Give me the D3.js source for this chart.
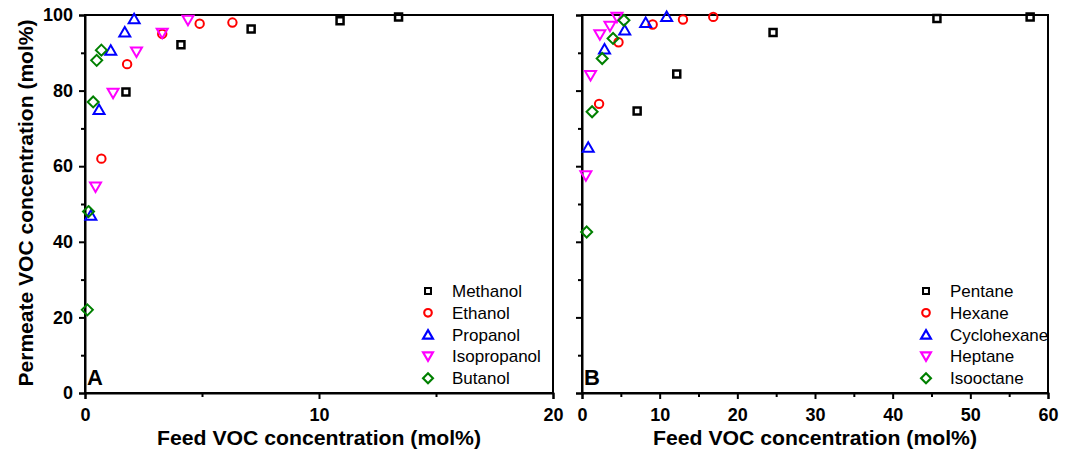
<!DOCTYPE html>
<html>
<head>
<meta charset="utf-8">
<script src="https://cdn.jsdelivr.net/npm/d3@7"></script>
<style>
body { margin: 0; background: #fff; }
text { font-family: "Liberation Sans", Arial, sans-serif; }
</style>
</head>
<body>
<div id="chart"></div>
<script>
// ---- data ----
var namesA = ['Methanol', 'Ethanol', 'Propanol', 'Isopropanol', 'Butanol'];
var namesB = ['Pentane', 'Hexane', 'Cyclohexane', 'Heptane', 'Isooctane'];

var methanol    = [[1.75, 79.6], [4.1, 92.1], [7.1, 96.3], [10.9, 98.5], [13.4, 99.5]];
var ethanol     = [[0.7, 62], [1.8, 87], [3.3, 95], [4.9, 97.7], [6.3, 98]];
var propanol    = [[0.25, 47], [0.6, 75], [1.1, 90.7], [1.7, 95.5], [2.1, 99]];
var isopropanol = [[0.45, 54.5], [1.2, 79.3], [2.2, 90.2], [3.3, 95.2], [4.4, 98.6]];
var butanol     = [[0.1, 22], [0.15, 48], [0.35, 77], [0.5, 88], [0.7, 90.7]];

var pentane     = [[7.1, 74.6], [12.2, 84.4], [24.6, 95.4], [45.7, 99.1], [57.7, 99.5]];
var hexane      = [[2.2, 76.5], [4.7, 92.8], [9.1, 97.5], [13, 98.8], [16.9, 99.5]];
var cyclohexane = [[0.8, 65], [2.9, 91], [5.5, 96], [8.2, 98], [10.9, 99.6]];
var heptane     = [[0.5, 57.5], [1.1, 84], [2.3, 94.8], [3.6, 97], [4.5, 99.4]];
var isooctane   = [[0.6, 42.6], [1.3, 74.4], [2.6, 88.5], [4, 93.8], [5.4, 98.6]];

var seriesA = [methanol, ethanol, propanol, isopropanol, butanol];
var seriesB = [pentane, hexane, cyclohexane, heptane, isooctane];

var xTicksA = [0, 10, 20], xMinorA = [5, 15];
var xTicksB = [0, 10, 20, 30, 40, 50, 60], xMinorB = [5, 15, 25, 35, 45, 55];
var yTicks = [0, 20, 40, 60, 80, 100], yMinor = [10, 30, 50, 70, 90];

var colors = ['#000000', '#ff0000', '#0000ff', '#ff00ff', '#008000'];
var shapes = ['square', 'circle', 'up', 'down', 'diamond'];

var width = 1065, height = 458;
var svg = d3.select('#chart').append('svg')
	.attr('width', width)
	.attr('height', height);

var y_scale = d3.scaleLinear().domain([0, 100]).range([393, 15]);

// marker path centred on 0,0
function marker(shape) {
	if (shape === 'square') return 'M-3.5,-3.5H3.5V3.5H-3.5Z';
	if (shape === 'circle') return 'M4.2,0A4.2,4.2 0 1,1 -4.2,0A4.2,4.2 0 1,1 4.2,0Z';
	if (shape === 'up') return 'M0,-5L5.5,4.5L-5.5,4.5Z';
	if (shape === 'down') return 'M0,5L5.5,-4.5L-5.5,-4.5Z';
	return 'M0,-5.5L5.5,0L0,5.5L-5.5,0Z';
}

function drawPanel(x0, x1, xmax, xTicks, xMinor, series, names, label, showYLabels, legendX) {
	var x_scale = d3.scaleLinear().domain([0, xmax]).range([x0, x1]);
	var g = svg.append('g');

	// frame
	g.append('rect')
		.attr('x', x0).attr('y', y_scale(100))
		.attr('width', x1 - x0).attr('height', y_scale(0) - y_scale(100))
		.attr('fill', 'none').attr('stroke', '#000').attr('stroke-width', 2);

	// x axis
	g.append('g')
		.attr('transform', 'translate(0,' + y_scale(0) + ')')
		.call(d3.axisBottom(x_scale).tickValues(xTicks).tickSize(6).tickPadding(9).tickFormat(d3.format('d')));
	g.append('g')
		.attr('transform', 'translate(0,' + y_scale(0) + ')')
		.call(d3.axisBottom(x_scale).tickValues(xMinor).tickSize(4).tickFormat(''))
		.select('.domain').remove();

	// y axis
	g.append('g')
		.attr('transform', 'translate(' + x0 + ',0)')
		.call(d3.axisLeft(y_scale).tickValues(yTicks).tickSize(6).tickPadding(6)
			.tickFormat(showYLabels ? d3.format('d') : ''));
	g.append('g')
		.attr('transform', 'translate(' + x0 + ',0)')
		.call(d3.axisLeft(y_scale).tickValues(yMinor).tickSize(4).tickFormat(''))
		.select('.domain').remove();

	g.selectAll('.domain').attr('stroke-width', 2);
	g.selectAll('.tick line').attr('stroke-width', 2);
	g.selectAll('.tick text')
		.attr('font-size', 18).attr('font-weight', 'bold')
		.attr('font-family', '"Liberation Sans", Arial, sans-serif').attr('fill', '#000');

	// points
	series.forEach(function(pts, i) {
		g.selectAll(null)
			.data(pts)
			.enter()
			.append('path')
			.attr('d', marker(shapes[i]))
			.attr('transform', function(d) { return 'translate(' + x_scale(d[0]) + ',' + y_scale(d[1]) + ')'; })
			.attr('fill', 'none')
			.attr('stroke', colors[i])
			.attr('stroke-width', i === 0 ? 2.5 : 2);
	});

	// legend
	names.forEach(function(n, i) {
		var ly = 291 + i * 21.8;
		g.append('path')
			.attr('d', marker(shapes[i]))
			.attr('transform', 'translate(' + legendX + ',' + ly + ') scale(' + (i === 0 ? 0.85 : 0.9) + ')')
			.attr('fill', 'none')
			.attr('stroke', colors[i])
			.attr('stroke-width', 2.4);
		g.append('text')
			.attr('x', legendX + 24).attr('y', ly + 6)
			.attr('font-size', 17)
			.text(n);
	});

	// panel label
	g.append('text')
		.attr('x', x0 + 2).attr('y', 385)
		.attr('font-size', 22).attr('font-weight', 'bold')
		.text(label);

	// x title
	g.append('text')
		.attr('x', (x0 + x1) / 2).attr('y', 445)
		.attr('text-anchor', 'middle')
		.attr('font-size', 20).attr('font-weight', 'bold')
		.attr('textLength', 324).attr('lengthAdjust', 'spacingAndGlyphs')
		.text('Feed VOC concentration (mol%)');
}

drawPanel(85, 553, 20, xTicksA, xMinorA, seriesA, namesA, 'A', true, 428);
drawPanel(582, 1048, 60, xTicksB, xMinorB, seriesB, namesB, 'B', false, 926);

// y title
svg.append('text')
	.attr('transform', 'translate(33,' + 203 + ') rotate(-90)')
	.attr('text-anchor', 'middle')
	.attr('font-size', 20).attr('font-weight', 'bold')
	.attr('textLength', 367).attr('lengthAdjust', 'spacingAndGlyphs')
	.text('Permeate VOC concentration (mol%)');
</script>
</body>
</html>
